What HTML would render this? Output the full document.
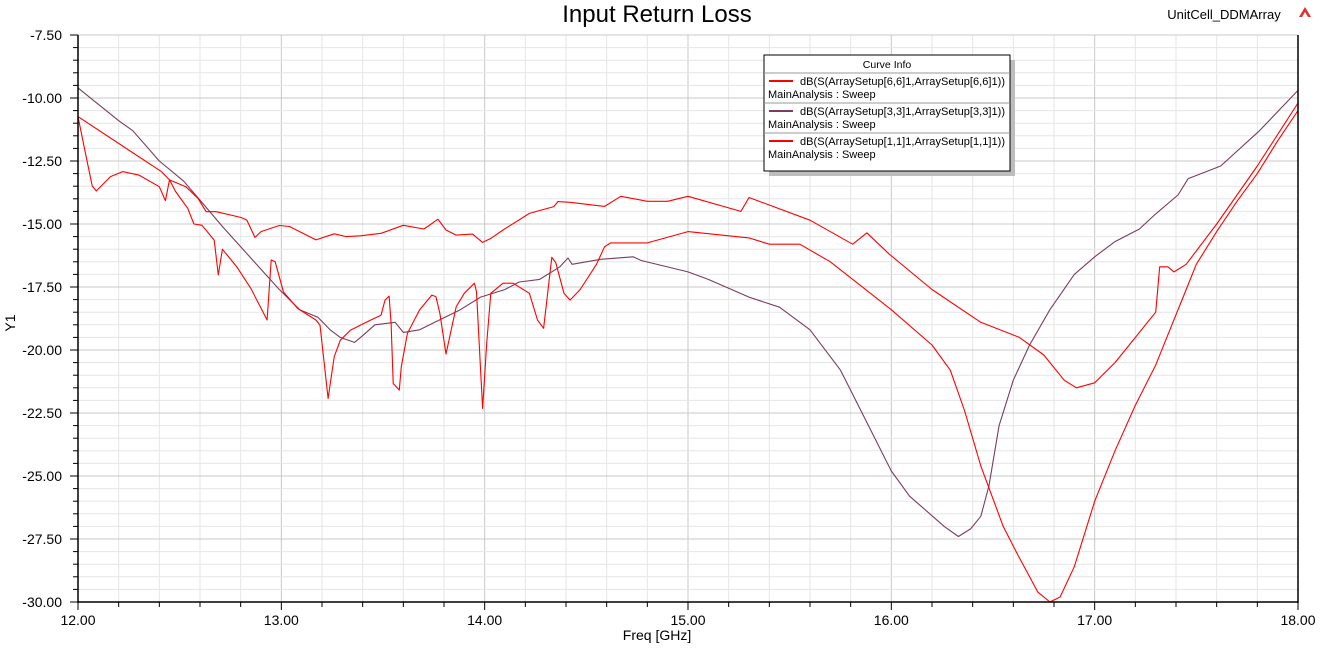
<!DOCTYPE html>
<html><head><meta charset="utf-8"><style>
body{margin:0;background:#fff;width:1327px;height:648px;overflow:hidden;font-family:"Liberation Sans",sans-serif}
svg text{font-family:"Liberation Sans",sans-serif}
</style></head><body>
<svg id="chart" width="1327" height="648" xmlns="http://www.w3.org/2000/svg">
<g id="grid"></g>
<g id="series"></g>
<g id="axes"></g>
<text x="657" y="22" font-size="24" text-anchor="middle">Input Return Loss</text>
<text x="1224" y="19" font-size="13" text-anchor="middle">UnitCell_DDMArray</text>
<g><polygon points="1299,17 1305,7 1311,17" fill="#e03030"/><polygon points="1302,17 1305,12 1308,17" fill="#fff"/></g>
<text x="657" y="640" font-size="14" text-anchor="middle">Freq [GHz]</text>
<text transform="translate(15,323) rotate(-90)" font-size="14" text-anchor="middle">Y1</text>
<g>
<rect x="769" y="60" width="246" height="116" fill="#bdbdbd"/>
<rect x="764" y="55" width="246" height="116" fill="#fff" stroke="#000" stroke-width="1"/>
<text x="887" y="68" font-size="10.5" text-anchor="middle">Curve Info</text>
<line x1="764" y1="73" x2="1010" y2="73" stroke="#999"/>
<line x1="764" y1="103" x2="1010" y2="103" stroke="#999"/>
<line x1="764" y1="133" x2="1010" y2="133" stroke="#999"/>
<g><line x1="769" y1="81" x2="793" y2="81" stroke="#ff0000" stroke-width="2"/><text x="800" y="85" font-size="11" textLength="205">dB(S(ArraySetup[6,6]1,ArraySetup[6,6]1))</text><text x="768" y="98" font-size="11">MainAnalysis : Sweep</text></g>
<g><line x1="769" y1="111" x2="793" y2="111" stroke="#7a3c60" stroke-width="2"/><text x="800" y="115" font-size="11" textLength="205">dB(S(ArraySetup[3,3]1,ArraySetup[3,3]1))</text><text x="768" y="128" font-size="11">MainAnalysis : Sweep</text></g>
<g><line x1="769" y1="141" x2="793" y2="141" stroke="#ff0000" stroke-width="2"/><text x="800" y="145" font-size="11" textLength="205">dB(S(ArraySetup[1,1]1,ArraySetup[1,1]1))</text><text x="768" y="158" font-size="11">MainAnalysis : Sweep</text></g>
</g>
</svg>
<script>
const xTicks=[12,13,14,15,16,17,18];
const xTickLabels=["12.00","13.00","14.00","15.00","16.00","17.00","18.00"];
const yTicks=[-7.5,-10,-12.5,-15,-17.5,-20,-22.5,-25,-27.5,-30];
const yTickLabels=["-7.50","-10.00","-12.50","-15.00","-17.50","-20.00","-22.50","-25.00","-27.50","-30.00"];
const s66Freq=[12.0,12.41,12.45,12.53,12.59,12.63,12.68,12.80,12.83,12.87,12.90,12.99,13.04,13.17,13.26,13.32,13.39,13.49,13.60,13.70,13.72,13.77,13.81,13.86,13.94,13.99,14.03,14.09,14.22,14.34,14.36,14.42,14.59,14.67,14.8,14.9,15.0,15.26,15.3,15.6,15.81,15.88,15.99,16.2,16.44,16.63,16.75,16.85,16.91,17.0,17.1,17.3,17.32,17.36,17.39,17.45,17.6,17.8,18.0];
const s66dB=[-10.74,-12.92,-13.25,-13.52,-13.98,-14.51,-14.51,-14.74,-14.84,-15.53,-15.30,-15.06,-15.10,-15.63,-15.39,-15.50,-15.47,-15.37,-15.05,-15.20,-15.10,-14.81,-15.24,-15.44,-15.40,-15.73,-15.57,-15.24,-14.58,-14.31,-14.11,-14.14,-14.3,-13.9,-14.1,-14.1,-13.9,-14.5,-13.95,-14.85,-15.8,-15.35,-16.2,-17.6,-18.9,-19.5,-20.2,-21.2,-21.5,-21.3,-20.5,-18.5,-16.7,-16.7,-16.9,-16.6,-15.0,-12.7,-10.2];
const s33Freq=[12.0,12.2,12.27,12.4,12.52,12.6,12.71,12.85,12.99,13.09,13.18,13.24,13.29,13.36,13.39,13.46,13.56,13.6,13.68,13.78,13.88,13.98,14.1,14.17,14.27,14.37,14.41,14.43,14.57,14.73,14.77,15.0,15.1,15.3,15.45,15.6,15.75,15.9,16.0,16.09,16.26,16.33,16.39,16.44,16.48,16.53,16.6,16.68,16.78,16.9,17.0,17.1,17.22,17.3,17.41,17.46,17.62,17.81,18.0];
const s33dB=[-9.6,-10.9,-11.3,-12.5,-13.3,-14.05,-15.1,-16.35,-17.6,-18.4,-18.7,-19.2,-19.5,-19.7,-19.5,-19.0,-18.9,-19.3,-19.2,-18.8,-18.4,-17.9,-17.6,-17.3,-17.2,-16.7,-16.35,-16.6,-16.4,-16.3,-16.45,-16.9,-17.2,-17.9,-18.3,-19.2,-20.8,-23.2,-24.8,-25.8,-27.0,-27.4,-27.1,-26.6,-25.4,-23.0,-21.2,-19.8,-18.4,-17.0,-16.3,-15.7,-15.2,-14.6,-13.85,-13.2,-12.7,-11.3,-9.7];
const s11Freq=[12.0,12.03,12.07,12.09,12.16,12.22,12.30,12.40,12.43,12.45,12.48,12.54,12.57,12.61,12.67,12.69,12.71,12.78,12.85,12.93,12.95,12.97,13.01,13.08,13.17,13.19,13.23,13.26,13.29,13.34,13.44,13.49,13.51,13.53,13.54,13.55,13.58,13.59,13.62,13.68,13.74,13.76,13.78,13.81,13.86,13.90,13.95,13.96,13.99,14.01,14.03,14.09,14.14,14.22,14.26,14.29,14.33,14.35,14.39,14.42,14.47,14.55,14.59,14.62,14.8,15.0,15.3,15.4,15.55,15.7,16.0,16.2,16.29,16.36,16.44,16.55,16.62,16.68,16.72,16.78,16.83,16.9,17.0,17.1,17.2,17.3,17.38,17.45,17.5,17.6,17.7,17.8,17.9,18.0];
const s11dB=[-10.74,-11.93,-13.49,-13.69,-13.12,-12.92,-13.06,-13.52,-14.07,-13.25,-13.71,-14.38,-15.0,-15.05,-15.64,-17.02,-16.0,-16.69,-17.55,-18.81,-16.43,-16.5,-17.69,-18.35,-18.81,-19.01,-21.92,-20.27,-19.61,-19.21,-18.81,-18.62,-18.02,-17.86,-18.95,-21.33,-21.59,-20.66,-19.34,-18.41,-17.82,-17.88,-18.55,-20.16,-18.28,-17.75,-17.35,-17.69,-22.32,-19.74,-17.75,-17.35,-17.35,-17.75,-18.81,-19.14,-16.32,-16.54,-17.75,-18.02,-17.6,-16.6,-15.9,-15.75,-15.75,-15.3,-15.55,-15.8,-15.8,-16.5,-18.4,-19.8,-20.8,-22.4,-24.6,-27.0,-28.1,-29.0,-29.6,-30.0,-29.8,-28.6,-26.0,-24.0,-22.2,-20.6,-19.0,-17.6,-16.6,-15.3,-14.1,-13.0,-11.7,-10.5];

const X0=78,X1=1298,Y0=35,Y1=602;
const xs=f=>X0+(f-12)/6*(X1-X0);
const ys=d=>Y0+(-7.5-d)/22.5*(Y1-Y0);
const NS='http://www.w3.org/2000/svg';
function mk(tag,parent){const e=document.createElementNS(NS,tag);parent.appendChild(e);return e;}
const grid=document.getElementById('grid'),axes=document.getElementById('axes'),series=document.getElementById('series');
for(let i=0;i<=30;i++){const f=12+i*0.2;const l=mk('line',grid);


const major=i%5===0;l.setAttribute('x1',xs(f));l.setAttribute('x2',xs(f));l.setAttribute('y1',Y0);l.setAttribute('y2',Y1);l.setAttribute('stroke',major?'#c8c8c8':'#e6e6e6');l.setAttribute('stroke-width',1);}
for(let i=0;i<=45;i++){const d=-7.5-i*0.5;const l=mk('line',grid);


const major=i%5===0;l.setAttribute('x1',X0);l.setAttribute('x2',X1);l.setAttribute('y1',ys(d));l.setAttribute('y2',ys(d));l.setAttribute('stroke',major?'#c8c8c8':'#e6e6e6');l.setAttribute('stroke-width',1);}
[[X0,Y0,X0,Y1+1],[X0,Y1,X1,Y1],[X1,Y0,X1,Y1+1]].forEach(a=>{const l=mk('line',axes);


l.setAttribute('x1',a[0]);l.setAttribute('y1',a[1]);l.setAttribute('x2',a[2]);l.setAttribute('y2',a[3]);l.setAttribute('stroke','#000');l.setAttribute('stroke-width',1.5);});
for(let i=0;i<=30;i++){const f=12+i*0.2;const l=mk('line',axes);


l.setAttribute('x1',xs(f));l.setAttribute('x2',xs(f));l.setAttribute('y1',Y1);l.setAttribute('y2',Y1+(i%5===0?8:5));l.setAttribute('stroke','#000');}
for(let i=0;i<=45;i++){const d=-7.5-i*0.5;const l=mk('line',axes);


l.setAttribute('x1',X0-(i%5===0?8:5));l.setAttribute('x2',X0);l.setAttribute('y1',ys(d));l.setAttribute('y2',ys(d));l.setAttribute('stroke','#000');}
xTicks.forEach((f,i)=>{const t=mk('text',axes);


t.setAttribute('x',xs(f));t.setAttribute('y',625);t.setAttribute('font-size',14);t.setAttribute('text-anchor','middle');t.textContent=xTickLabels[i];});
yTicks.forEach((d,i)=>{const t=mk('text',axes);


t.setAttribute('x',62);t.setAttribute('y',ys(d)+5);t.setAttribute('font-size',14);t.setAttribute('text-anchor','end');t.textContent=yTickLabels[i];});
function line(fr,db,color,name){const p=mk('polyline',series);


p.setAttribute('points',fr.map((f,i)=>xs(f).toFixed(1)+','+ys(db[i]).toFixed(1)).join(' '));p.setAttribute('fill','none');p.setAttribute('stroke',color);p.setAttribute('stroke-width',1.1);p.setAttribute('stroke-linejoin','round');}
line(s33Freq,s33dB,'#7a3c60','series-s33');
line(s66Freq,s66dB,'#ff0000','series-s66');
line(s11Freq,s11dB,'#ff0000','series-s11');
</script>
</body></html>
